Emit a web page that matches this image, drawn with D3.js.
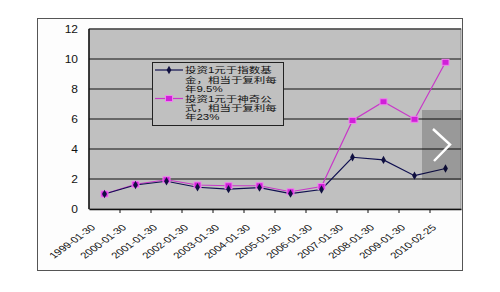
<!DOCTYPE html>
<html lang="zh">

<head>
    <meta charset="UTF-8">
    <title>投资1元收益对比</title>
    <script src="https://cdn.jsdelivr.net/npm/d3@7"></script>
    <style>
        body { margin: 0; background: #fff; }
        text { font-family: Arial, "Liberation Sans", sans-serif; fill: #111; }
        .cjk { font-family: "Liberation Sans", "Noto Sans CJK SC", sans-serif; }
    </style>
</head>

<body>
    <div id="chart"></div>

    <script>
        // categories (x axis)
        const categories = ["1999-01-30", "2000-01-30", "2001-01-30", "2002-01-30", "2003-01-30", "2004-01-30",
            "2005-01-30", "2006-01-30", "2007-01-30", "2008-01-30", "2009-01-30", "2010-02-25"];

        // series values
        const indexFund = [1.0, 1.6, 1.85, 1.45, 1.32, 1.42, 1.02, 1.3, 3.45, 3.27, 2.22, 2.7];
        const magicFormula = [1.0, 1.65, 1.95, 1.6, 1.55, 1.55, 1.15, 1.5, 5.9, 7.15, 5.98, 9.78];

        const yTicks = [0, 2, 4, 6, 8, 10, 12];

        const legendIndex = ["投资1元于指数基", "金，相当于复利每", "年9.5%"];
        const legendMagic = ["投资1元于神奇公", "式，相当于复利每", "年23%"];

        const W = 500, H = 292;

        const svg = d3.select("#chart").append("svg")
            .attr("width", W)
            .attr("height", H);

        // outer chart frame
        svg.append("rect")
            .attr("x", 37.5).attr("y", 18.5)
            .attr("width", 425).attr("height", 252)
            .attr("fill", "#fdfdfd")
            .attr("stroke", "#555");

        const plot = { left: 89, right: 461, top: 29, bottom: 209 };

        const x = d3.scaleBand()
            .domain(categories)
            .range([plot.left, plot.right])
            .padding(0);

        const y = d3.scaleLinear()
            .domain([0, 12])
            .range([plot.bottom, plot.top]);

        // plot area
        svg.append("rect")
            .attr("x", plot.left).attr("y", plot.top)
            .attr("width", plot.right - plot.left).attr("height", plot.bottom - plot.top)
            .attr("fill", "#c0c0c0")
            .attr("stroke", "#8a8a8a");

        // gridlines
        svg.append("g")
            .selectAll("line")
            .data(yTicks.filter(d => d > 0))
            .join("line")
            .attr("x1", plot.left).attr("x2", plot.right)
            .attr("y1", d => y(d)).attr("y2", d => y(d))
            .attr("stroke", "#4a4a4a")
            .attr("stroke-width", 1.4);

        // y axis line + labels
        svg.append("line")
            .attr("x1", plot.left).attr("x2", plot.left)
            .attr("y1", plot.top).attr("y2", plot.bottom)
            .attr("stroke", "#111").attr("stroke-width", 1.5);

        svg.append("g")
            .selectAll("text")
            .data(yTicks)
            .join("text")
            .attr("transform", d => `translate(78,${y(d) + 3.6}) scale(1.2,1)`)
            .attr("text-anchor", "end")
            .attr("font-size", 10)
            .text(d => d);

        // x axis: line, ticks between categories, rotated labels
        const xAxis = svg.append("g")
            .attr("transform", `translate(0,${plot.bottom})`)
            .call(d3.axisBottom(x).tickSize(0).tickFormat(""));
        xAxis.select(".domain").attr("stroke", "#111").attr("stroke-width", 1.5);

        svg.append("g")
            .selectAll("line")
            .data(categories.slice(1))
            .join("line")
            .attr("x1", d => x(d)).attr("x2", d => x(d))
            .attr("y1", plot.bottom).attr("y2", plot.bottom + 4)
            .attr("stroke", "#111");

        // the picture is stretched sideways, so the labels are too
        svg.append("g")
            .selectAll("text")
            .data(categories)
            .join("text")
            .attr("transform", d => `translate(${x(d) + x.bandwidth() / 2 - 8.5},${plot.bottom + 19}) scale(1.35,1) rotate(-45)`)
            .attr("text-anchor", "end")
            .attr("font-size", 8.6)
            .text(d => d);

        const cx = d => x(d) + x.bandwidth() / 2;

        const line = d3.line()
            .x((d, i) => cx(categories[i]))
            .y(d => y(d));

        // magic formula series (pink squares)
        svg.append("path")
            .datum(magicFormula)
            .attr("fill", "none")
            .attr("stroke", "#c838c8")
            .attr("stroke-width", 1.2)
            .attr("d", line);

        // index fund series (navy diamonds)
        svg.append("path")
            .datum(indexFund)
            .attr("fill", "none")
            .attr("stroke", "#101050")
            .attr("stroke-width", 1.2)
            .attr("d", line);

        svg.append("g")
            .selectAll("rect")
            .data(magicFormula)
            .join("rect")
            .attr("x", (d, i) => cx(categories[i]) - 3.5)
            .attr("y", d => y(d) - 3)
            .attr("width", 7).attr("height", 6)
            .attr("fill", "#d020d8")
            .attr("stroke", "#f080f0")
            .attr("stroke-width", 1);

        const diamond = d3.symbol().type(d3.symbolDiamond).size(20);
        svg.append("g")
            .selectAll("path")
            .data(indexFund)
            .join("path")
            .attr("transform", (d, i) => `translate(${cx(categories[i])},${y(d)})`)
            .attr("d", diamond)
            .attr("fill", "#101040");

        // legend
        const legend = svg.append("g");
        legend.append("rect")
            .attr("x", 152.5).attr("y", 62.5)
            .attr("width", 131).attr("height", 63)
            .attr("fill", "#c0c0c0")
            .attr("stroke", "#222");

        const entries = [
            { lines: legendIndex, top: 70, color: "#101050", marker: "diamond" },
            { lines: legendMagic, top: 98.5, color: "#c838c8", marker: "square" }
        ];

        entries.forEach(e => {
            legend.append("line")
                .attr("x1", 155).attr("x2", 183)
                .attr("y1", e.top).attr("y2", e.top)
                .attr("stroke", e.color).attr("stroke-width", 1.2);
            if (e.marker === "diamond") {
                legend.append("path")
                    .attr("transform", `translate(169,${e.top})`)
                    .attr("d", diamond)
                    .attr("fill", "#101040");
            } else {
                legend.append("rect")
                    .attr("x", 165.5).attr("y", e.top - 3)
                    .attr("width", 7).attr("height", 6)
                    .attr("fill", "#d020d8")
                    .attr("stroke", "#f080f0");
            }
            e.lines.forEach((t, i) => {
                legend.append("text")
                    .attr("class", "cjk")
                    .attr("transform", `translate(185,${e.top + 3.3 + i * 9.2}) scale(1.4,1)`)
                    .attr("font-size", 8.2)
                    .text(t);
            });
        });

        // carousel arrow overlay sitting on the picture
        svg.append("rect")
            .attr("x", 422).attr("y", 110)
            .attr("width", 40).attr("height", 70)
            .attr("fill", "#000")
            .attr("fill-opacity", 0.2);

        svg.append("path")
            .attr("d", "M433,129 L450,144.5 L434,161")
            .attr("fill", "none")
            .attr("stroke", "#fff")
            .attr("stroke-width", 2.5);
    </script>
</body>

</html>
